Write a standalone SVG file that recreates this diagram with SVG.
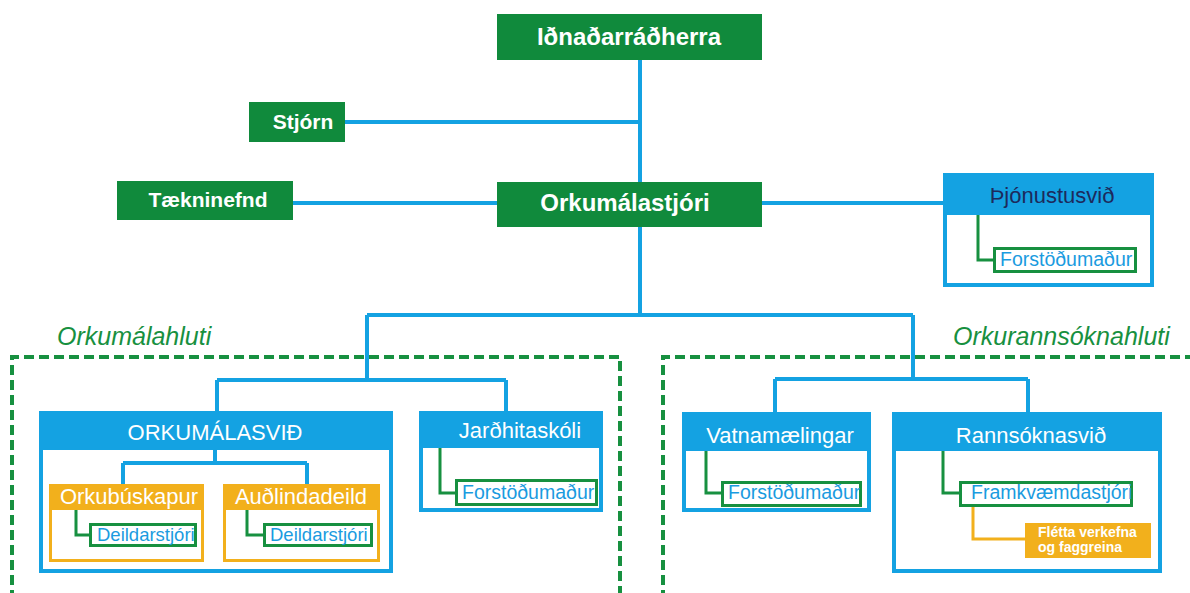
<svg xmlns="http://www.w3.org/2000/svg" width="1190" height="593" viewBox="0 0 1190 593">
<style>
text{font-family:"Liberation Sans",Arial,sans-serif}
.gbox{fill:#108a3c}
.gt{fill:#fff;font-weight:bold;font-size:24px;text-anchor:middle}
.gs{fill:#fff;font-weight:bold;font-size:21px;text-anchor:middle}
.bl{fill:none;stroke:#14a2e2;stroke-width:4}
.bframe{fill:#fff;stroke:#14a2e2;stroke-width:4}
.bhead{fill:#14a2e2}
.oframe{fill:#fff;stroke:#f2b01c;stroke-width:3}
.ohead{fill:#f2b01c}
.ht{fill:#fff;font-size:22px;text-anchor:middle}
.gl{fill:none;stroke:#179040;stroke-width:3}
.ol{fill:none;stroke:#f2b01c;stroke-width:3}
.sub{fill:#fff;stroke:#179040;stroke-width:3}
.st{fill:#1a9be0;font-size:19.5px}
.dash{fill:none;stroke:#179040;stroke-width:4;stroke-dasharray:10 5}
.zone{fill:#179040;font-size:25px;font-style:italic}
.ft{fill:#fff;font-size:14px;font-weight:bold}
</style>
<g id="zones">
<path class="dash" d="M12,600 V357 H620 V600"/>
<path class="dash" d="M663,600 V357 H1195"/>
<text class="zone" x="57" y="345">Orkumálahluti</text>
<text class="zone" x="953" y="345">Orkurannsóknahluti</text>
</g>
<g id="connectors">
<path class="bl" d="M640,60 V182"/>
<path class="bl" d="M345,122 H640"/>
<path class="bl" d="M293,203 H497"/>
<path class="bl" d="M762,203 H943"/>
<path class="bl" d="M640,227 V315 M367,315 H913"/>
<path class="bl" d="M367,315 V380 M217,380 H506 M217,380 V411 M506,380 V411"/>
<path class="bl" d="M913,315 V379 M775,379 H1028 M775,379 V412 M1028,379 V412"/>
</g>
<g id="idnadarradherra">
<rect class="gbox" x="497" y="14" width="265" height="46"/>
<text class="gt" x="629" y="45">Iðnaðarráðherra</text>
</g>
<g id="stjorn">
<rect class="gbox" x="249" y="102" width="96" height="40"/>
<text class="gs" x="303" y="129">Stjórn</text>
</g>
<g id="taekninefnd">
<rect class="gbox" x="117" y="181" width="176" height="39"/>
<text class="gs" x="208" y="207">Tækninefnd</text>
</g>
<g id="orkumalastjori">
<rect class="gbox" x="497" y="182" width="265" height="45"/>
<text class="gt" x="625" y="211">Orkumálastjóri</text>
</g>
<g id="thjonustusvid">
<rect class="bframe" x="945" y="175" width="207" height="110"/>
<rect class="bhead" x="943" y="173" width="211" height="42"/>
<text class="ht" x="1052" y="203" style="fill:#1d2a5c">Þjónustusvið</text>
<path class="gl" d="M978,215 V260 H993"/>
<rect class="sub" x="994.500" y="248.500" width="141" height="23"/>
<text class="st" x="1000" y="266">Forstöðumaður</text>
</g>
<g id="orkumalasvid">
<rect class="bframe" x="41" y="413" width="350" height="158"/>
<rect class="bhead" x="39" y="411" width="354" height="39"/>
<text class="ht" x="215" y="440">ORKUMÁLASVIÐ</text>
<path class="bl" d="M215,450 V463 M123,463 H307 M123,463 V484 M307,463 V484"/>
</g>
<g id="orkubuskapur">
<rect class="oframe" x="50.500" y="485.500" width="152" height="75"/>
<rect class="ohead" x="49" y="484" width="155" height="26"/>
<text class="ht" x="129" y="504">Orkubúskapur</text>
<path class="gl" d="M76,510 V535 H89"/>
<rect class="sub" x="90.500" y="524.500" width="105" height="21"/>
<text class="st" x="97" y="541" style="font-size:18.5px">Deildarstjóri</text>
</g>
<g id="audlindadeild">
<rect class="oframe" x="224.500" y="485.500" width="154" height="75"/>
<rect class="ohead" x="223" y="484" width="157" height="26"/>
<text class="ht" x="301" y="504">Auðlindadeild</text>
<path class="gl" d="M247,510 V535 H263"/>
<rect class="sub" x="264.500" y="524.500" width="107" height="21"/>
<text class="st" x="270" y="541" style="font-size:18.5px">Deildarstjóri</text>
</g>
<g id="jardhitaskoli">
<rect class="bframe" x="421" y="413" width="180" height="97"/>
<rect class="bhead" x="419" y="411" width="184" height="37"/>
<text class="ht" x="520" y="438">Jarðhitaskóli</text>
<path class="gl" d="M440,448 V493 H455"/>
<rect class="sub" x="456.500" y="480.500" width="140" height="24"/>
<text class="st" x="462" y="499">Forstöðumaður</text>
</g>
<g id="vatnamaelingar">
<rect class="bframe" x="684" y="414" width="185" height="96"/>
<rect class="bhead" x="682" y="412" width="189" height="39"/>
<text class="ht" x="780" y="443">Vatnamælingar</text>
<path class="gl" d="M706,451 V493 H721"/>
<rect class="sub" x="722.500" y="482.500" width="138" height="23"/>
<text class="st" x="728" y="499">Forstöðumaður</text>
</g>
<g id="rannsoknasvid">
<rect class="bframe" x="894" y="414" width="266" height="157"/>
<rect class="bhead" x="892" y="412" width="270" height="39"/>
<text class="ht" x="1031" y="443">Rannsóknasvið</text>
<path class="gl" d="M943,451 V493 H959"/>
<rect class="sub" x="960.500" y="482.500" width="171" height="23"/>
<text class="st" x="971" y="499">Framkvæmdastjóri</text>
<path class="ol" d="M973,507 V539 H1025"/>
</g>
<g id="fletta">
<rect class="ohead" x="1025" y="523" width="126" height="35"/>
<text class="ft" x="1038" y="537">Flétta verkefna</text>
<text class="ft" x="1038" y="552">og faggreina</text>
</g>
</svg>
